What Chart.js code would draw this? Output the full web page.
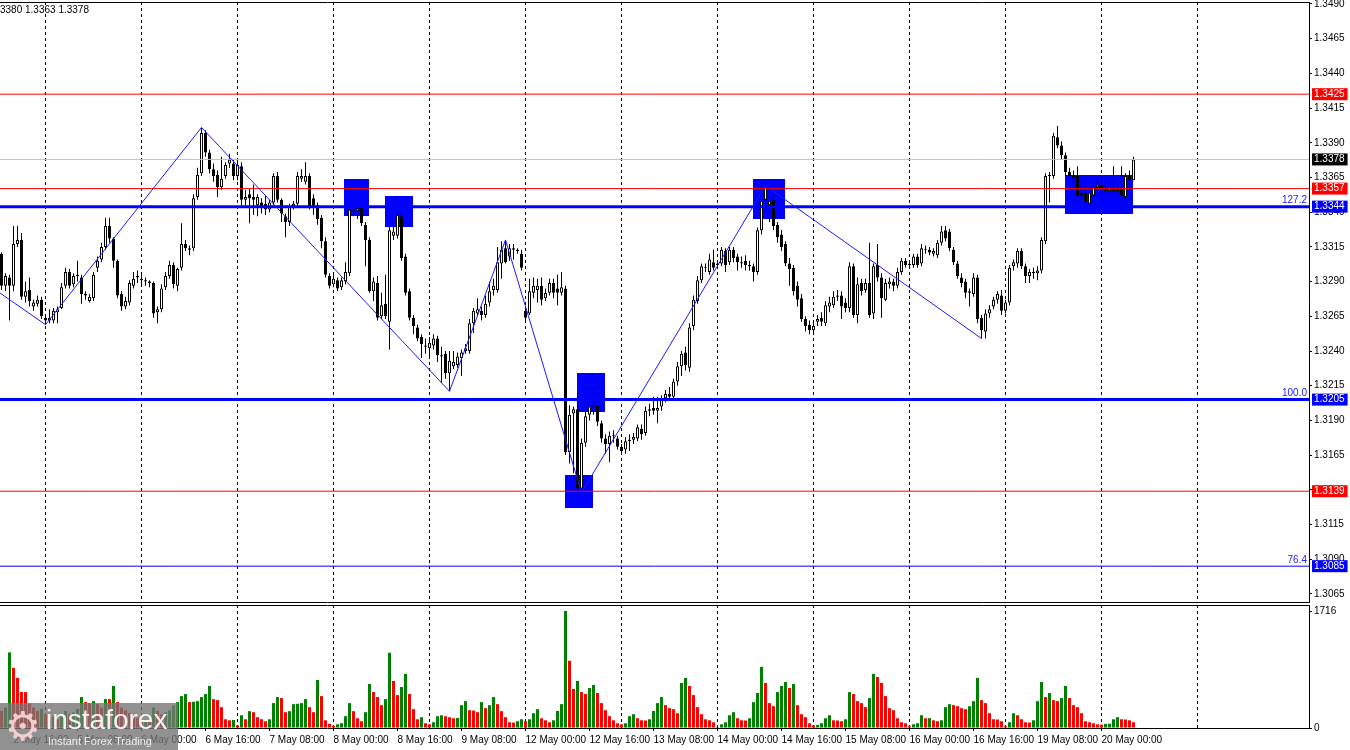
<!DOCTYPE html>
<html>
<head>
<meta charset="utf-8">
<title>GBPUSD H1</title>
<script src="https://cdn.jsdelivr.net/npm/chart.js@4.4.1/dist/chart.umd.min.js"></script>
<style>
  body { margin: 0; background: #fff; }
  #wrap { position: relative; width: 1350px; height: 750px; overflow: hidden; background: #fff; }
  #priceChart { position: absolute; left: 0; top: 0; }
  #volChart { position: absolute; left: 0; top: 603px; }
  #info { position: absolute; left: 0; top: 4px; font: 10px "Liberation Sans", Arial, sans-serif; color: #000; white-space: nowrap; }
  #wm { position: absolute; left: 0; top: 703px; width: 178px; height: 47px; background: rgba(118,118,118,0.8); overflow: hidden; }
  #wm .gear { position: absolute; left: 5px; top: 1px; font: 40px/44px "DejaVu Sans", sans-serif; color: rgba(255,215,215,0.9); }
  #wm .big { position: absolute; left: 46px; top: 1px; font: 28px/32px "Liberation Sans", Arial, sans-serif; color: #f2f2f2; }
  #wm .small { position: absolute; left: 48px; top: 32px; font: 11px/13px "Liberation Sans", Arial, sans-serif; color: #eeeeee; }
</style>
</head>
<body>
<div id="wrap">
  <canvas id="priceChart" width="1350" height="603"></canvas>
  <canvas id="volChart" width="1350" height="147"></canvas>
  <div id="info">3380 1.3363 1.3378</div>
  <div id="wm"><span class="gear">⚙</span><span class="big">instaforex</span><span class="small">Instant Forex Trading</span></div>
</div>
<script>
// hourly candles, 2 May 13:00 .. 20 May 08:00
const opens = [
  1.3310,1.3287,1.3293,1.3287,1.3317,1.3320,1.3279,1.3284,1.3272,1.3274,
  1.3277,1.3264,1.3262,1.3262,1.3268,1.3271,1.3287,1.3297,1.3288,1.3295,
  1.3293,1.3281,1.3276,1.3278,1.3300,1.3306,1.3315,1.3330,1.3321,1.3305,
  1.3281,1.3272,1.3275,1.3287,1.3293,1.3292,1.3291,1.3290,1.3289,1.3268,
  1.3270,1.3286,1.3294,1.3302,1.3287,1.3300,1.3317,1.3314,1.3314,1.3351,
  1.3368,1.3397,1.3383,1.3371,1.3367,1.3358,1.3366,1.3375,1.3375,1.3366,
  1.3373,1.3349,1.3353,1.3351,1.3345,1.3347,1.3346,1.3342,1.3347,1.3366,
  1.3349,1.3337,1.3333,1.3344,1.3346,1.3364,1.3362,1.3366,1.3350,1.3345,
  1.3336,1.3319,1.3294,1.3288,1.3291,1.3286,1.3290,1.3296,1.3341,1.3341,
  1.3343,1.3331,1.3320,1.3283,1.3289,1.3265,1.3274,1.3261,1.3323,1.3323,
  1.3337,1.3308,1.3283,1.3264,1.3257,1.3250,1.3244,1.3242,1.3244,1.3249,
  1.3237,1.3238,1.3224,1.3229,1.3230,1.3235,1.3240,1.3240,1.3260,1.3267,
  1.3269,1.3266,1.3275,1.3284,1.3284,1.3303,1.3314,1.3308,1.3314,1.3313,
  1.3310,1.3269,1.3267,1.3282,1.3284,1.3287,1.3278,1.3282,1.3289,1.3285,
  1.3282,1.3285,1.3167,1.3195,1.3198,1.3141,1.3174,1.3194,1.3199,1.3201,
  1.3188,1.3177,1.3173,1.3179,1.3177,1.3171,1.3169,1.3175,1.3176,1.3177,
  1.3184,1.3181,1.3197,1.3199,1.3197,1.3200,1.3206,1.3209,1.3207,1.3218,
  1.3229,1.3239,1.3228,1.3258,1.3276,1.3291,1.3300,1.3297,1.3304,1.3302,
  1.3303,1.3312,1.3304,1.3313,1.3308,1.3304,1.3305,1.3302,1.3301,1.3297,
  1.3327,1.3349,1.3345,1.3349,1.3331,1.3324,1.3317,1.3303,1.3300,1.3287,
  1.3278,1.3263,1.3259,1.3255,1.3261,1.3264,1.3260,1.3272,1.3273,1.3279,
  1.3280,1.3275,1.3271,1.3301,1.3266,1.3289,1.3284,1.3289,1.3267,1.3302,
  1.3293,1.3277,1.3288,1.3290,1.3287,1.3297,1.3305,1.3302,1.3302,1.3308,
  1.3303,1.3313,1.3313,1.3310,1.3309,1.3318,1.3327,1.3326,1.3313,1.3303,
  1.3293,1.3290,1.3283,1.3281,1.3293,1.3264,1.3254,1.3267,1.3272,1.3277,
  1.3280,1.3269,1.3275,1.3301,1.3303,1.3312,1.3301,1.3294,1.3297,1.3296,
  1.3298,1.3319,1.3366,1.3366,1.3394,1.3388,1.3381,1.3369,1.3366,1.3366,
  1.3354,1.3354,1.3346,1.3352,1.3358,1.3360,1.3357,1.3355,1.3357,1.3355,
  1.3357,1.3351,1.3366,1.3363
];
const highs = [
  1.3311,1.3296,1.3295,1.3330,1.3330,1.3325,1.3290,1.3293,1.3277,1.3280,
  1.3279,1.3266,1.3270,1.3271,1.3272,1.3289,1.3300,1.3299,1.3296,1.3305,
  1.3295,1.3283,1.3281,1.3297,1.3308,1.3318,1.3336,1.3336,1.3322,1.3306,
  1.3283,1.3279,1.3291,1.3297,1.3298,1.3296,1.3293,1.3291,1.3290,1.3272,
  1.3288,1.3297,1.3305,1.3304,1.3300,1.3332,1.3320,1.3316,1.3353,1.3372,
  1.3401,1.3399,1.3385,1.3375,1.3370,1.3380,1.3376,1.3382,1.3378,1.3378,
  1.3376,1.3356,1.3357,1.3360,1.3353,1.3350,1.3352,1.3349,1.3368,1.3369,
  1.3350,1.3339,1.3346,1.3348,1.3369,1.3371,1.3376,1.3368,1.3353,1.3347,
  1.3338,1.3322,1.3296,1.3295,1.3293,1.3293,1.3304,1.3345,1.3350,1.3356,
  1.3346,1.3333,1.3322,1.3293,1.3294,1.3282,1.3295,1.3330,1.3330,1.3341,
  1.3341,1.3310,1.3285,1.3266,1.3259,1.3252,1.3249,1.3250,1.3252,1.3251,
  1.3243,1.3240,1.3240,1.3240,1.3239,1.3241,1.3245,1.3263,1.3271,1.3278,
  1.3272,1.3280,1.3290,1.3292,1.3315,1.3319,1.3320,1.3317,1.3317,1.3314,
  1.3313,1.3272,1.3292,1.3293,1.3292,1.3293,1.3285,1.3292,1.3292,1.3295,
  1.3297,1.3287,1.3201,1.3200,1.3210,1.3177,1.3200,1.3214,1.3214,1.3214,
  1.3190,1.3180,1.3182,1.3183,1.3179,1.3173,1.3178,1.3180,1.3181,1.3187,
  1.3187,1.3200,1.3202,1.3207,1.3207,1.3208,1.3212,1.3214,1.3220,1.3232,
  1.3240,1.3243,1.3260,1.3280,1.3294,1.3303,1.3303,1.3310,1.3313,1.3305,
  1.3315,1.3314,1.3315,1.3315,1.3310,1.3308,1.3309,1.3305,1.3303,1.3329,
  1.3350,1.3359,1.3352,1.3352,1.3333,1.3327,1.3319,1.3307,1.3302,1.3290,
  1.3281,1.3265,1.3262,1.3261,1.3266,1.3268,1.3276,1.3279,1.3283,1.3284,
  1.3283,1.3278,1.3304,1.3303,1.3293,1.3292,1.3292,1.3318,1.3303,1.3317,
  1.3296,1.3292,1.3293,1.3292,1.3300,1.3307,1.3307,1.3305,1.3310,1.3310,
  1.3317,1.3316,1.3315,1.3314,1.3320,1.3330,1.3330,1.3328,1.3315,1.3305,
  1.3296,1.3292,1.3285,1.3296,1.3295,1.3266,1.3270,1.3273,1.3279,1.3283,
  1.3284,1.3277,1.3302,1.3306,1.3314,1.3314,1.3303,1.3299,1.3300,1.3301,
  1.3322,1.3368,1.3369,1.3397,1.3402,1.3391,1.3383,1.3372,1.3370,1.3373,
  1.3359,1.3357,1.3358,1.3362,1.3364,1.3365,1.3361,1.3360,1.3373,1.3359,
  1.3373,1.3368,1.3370,1.3380
];
const lows = [
  1.3284,1.3283,1.3262,1.3283,1.3315,1.3277,1.3275,1.3272,1.3269,1.3272,
  1.3263,1.3259,1.3260,1.3260,1.3260,1.3270,1.3285,1.3285,1.3286,1.3290,
  1.3274,1.3277,1.3275,1.3276,1.3297,1.3304,1.3313,1.3318,1.3300,1.3278,
  1.3269,1.3270,1.3273,1.3285,1.3289,1.3288,1.3287,1.3286,1.3264,1.3260,
  1.3268,1.3284,1.3292,1.3285,1.3283,1.3298,1.3312,1.3309,1.3312,1.3349,
  1.3366,1.3380,1.3368,1.3362,1.3351,1.3356,1.3364,1.3372,1.3363,1.3363,
  1.3345,1.3345,1.3332,1.3338,1.3337,1.3339,1.3338,1.3340,1.3345,1.3347,
  1.3333,1.3322,1.3330,1.3342,1.3344,1.3362,1.3360,1.3342,1.3338,1.3331,
  1.3314,1.3293,1.3285,1.3286,1.3283,1.3284,1.3288,1.3294,1.3337,1.3335,
  1.3330,1.3301,1.3282,1.3276,1.3262,1.3263,1.3263,1.3241,1.3320,1.3321,
  1.3305,1.3280,1.3262,1.3252,1.3247,1.3235,1.3238,1.3236,1.3241,1.3232,
  1.3217,1.3220,1.3211,1.3227,1.3228,1.3222,1.3238,1.3238,1.3253,1.3265,
  1.3262,1.3264,1.3272,1.3280,1.3282,1.3292,1.3303,1.3305,1.3306,1.3310,
  1.3298,1.3262,1.3266,1.3278,1.3275,1.3273,1.3276,1.3280,1.3278,1.3273,
  1.3280,1.3165,1.3159,1.3152,1.3139,1.3138,1.3171,1.3190,1.3194,1.3186,
  1.3174,1.3166,1.3160,1.3174,1.3169,1.3166,1.3166,1.3168,1.3173,1.3175,
  1.3176,1.3179,1.3193,1.3194,1.3188,1.3197,1.3203,1.3204,1.3205,1.3215,
  1.3222,1.3226,1.3225,1.3255,1.3274,1.3289,1.3297,1.3295,1.3298,1.3299,
  1.3301,1.3297,1.3302,1.3304,1.3298,1.3300,1.3298,1.3298,1.3290,1.3295,
  1.3324,1.3340,1.3333,1.3327,1.3318,1.3312,1.3301,1.3287,1.3280,1.3272,
  1.3261,1.3254,1.3252,1.3252,1.3258,1.3258,1.3258,1.3268,1.3271,1.3276,
  1.3263,1.3268,1.3268,1.3264,1.3260,1.3280,1.3282,1.3264,1.3263,1.3290,
  1.3264,1.3276,1.3285,1.3283,1.3285,1.3295,1.3300,1.3299,1.3300,1.3300,
  1.3301,1.3310,1.3309,1.3308,1.3307,1.3316,1.3319,1.3312,1.3302,1.3292,
  1.3286,1.3278,1.3272,1.3279,1.3260,1.3249,1.3249,1.3264,1.3270,1.3274,
  1.3266,1.3267,1.3273,1.3298,1.3300,1.3299,1.3289,1.3289,1.3292,1.3291,
  1.3296,1.3317,1.3347,1.3364,1.3386,1.3378,1.3366,1.3363,1.3360,1.3348,
  1.3346,1.3345,1.3345,1.3350,1.3356,1.3354,1.3349,1.3352,1.3348,1.3350,
  1.3346,1.3349,1.3358,1.3363
];
const closes = [
  1.3287,1.3294,1.3287,1.3317,1.3320,1.3279,1.3283,1.3276,1.3275,1.3277,
  1.3265,1.3262,1.3264,1.3269,1.3270,1.3286,1.3297,1.3287,1.3294,1.3294,
  1.3281,1.3280,1.3279,1.3295,1.3305,1.3315,1.3330,1.3321,1.3305,1.3280,
  1.3272,1.3276,1.3289,1.3292,1.3294,1.3291,1.3290,1.3289,1.3267,1.3270,
  1.3285,1.3294,1.3302,1.3288,1.3299,1.3317,1.3314,1.3313,1.3350,1.3367,
  1.3397,1.3383,1.3371,1.3366,1.3358,1.3364,1.3374,1.3378,1.3366,1.3374,
  1.3349,1.3351,1.3350,1.3349,1.3351,1.3344,1.3342,1.3347,1.3366,1.3349,
  1.3339,1.3333,1.3344,1.3346,1.3366,1.3366,1.3366,1.3344,1.3344,1.3335,
  1.3319,1.3295,1.3287,1.3292,1.3285,1.3291,1.3297,1.3342,1.3342,1.3343,
  1.3332,1.3320,1.3283,1.3290,1.3264,1.3273,1.3265,1.3327,1.3326,1.3338,
  1.3307,1.3282,1.3264,1.3258,1.3249,1.3245,1.3243,1.3246,1.3249,1.3237,
  1.3236,1.3224,1.3233,1.3232,1.3236,1.3239,1.3242,1.3260,1.3269,1.3270,
  1.3266,1.3274,1.3283,1.3287,1.3304,1.3313,1.3304,1.3314,1.3313,1.3312,
  1.3300,1.3264,1.3283,1.3287,1.3287,1.3277,1.3282,1.3289,1.3282,1.3282,
  1.3286,1.3167,1.3194,1.3198,1.3141,1.3174,1.3193,1.3200,1.3200,1.3189,
  1.3177,1.3173,1.3179,1.3179,1.3171,1.3168,1.3175,1.3176,1.3178,1.3185,
  1.3180,1.3197,1.3198,1.3197,1.3199,1.3206,1.3209,1.3207,1.3218,1.3229,
  1.3238,1.3230,1.3257,1.3277,1.3291,1.3301,1.3300,1.3306,1.3300,1.3303,
  1.3313,1.3302,1.3313,1.3307,1.3304,1.3303,1.3302,1.3301,1.3297,1.3327,
  1.3348,1.3358,1.3348,1.3330,1.3322,1.3315,1.3303,1.3299,1.3283,1.3277,
  1.3263,1.3258,1.3255,1.3258,1.3263,1.3261,1.3273,1.3275,1.3279,1.3280,
  1.3272,1.3271,1.3301,1.3266,1.3288,1.3283,1.3289,1.3266,1.3301,1.3293,
  1.3278,1.3289,1.3290,1.3287,1.3297,1.3305,1.3302,1.3302,1.3308,1.3302,
  1.3314,1.3313,1.3311,1.3312,1.3318,1.3326,1.3321,1.3314,1.3304,1.3294,
  1.3289,1.3282,1.3282,1.3293,1.3263,1.3255,1.3267,1.3270,1.3277,1.3281,
  1.3269,1.3275,1.3300,1.3304,1.3312,1.3301,1.3294,1.3297,1.3296,1.3298,
  1.3320,1.3366,1.3367,1.3395,1.3388,1.3381,1.3369,1.3366,1.3365,1.3352,
  1.3352,1.3348,1.3354,1.3358,1.3360,1.3357,1.3355,1.3357,1.3355,1.3356,
  1.3352,1.3366,1.3363,1.3378
];
const volumes = [
  250,300,1109,882,735,527,527,360,300,250,
  280,200,150,170,130,180,250,200,230,280,
  454,380,365,394,350,300,424,424,616,380,
  300,260,220,180,150,90,120,100,300,250,
  200,230,260,330,380,468,498,380,385,394,
  454,498,616,424,409,306,128,113,118,40,
  187,128,247,232,158,128,99,128,365,454,
  439,232,247,350,355,365,424,306,232,705,
  468,113,60,30,54,69,173,365,247,143,
  99,232,646,527,454,335,424,1104,690,483,
  601,794,498,276,128,158,69,54,84,173,
  187,173,158,143,148,335,394,261,255,232,
  380,291,335,454,350,247,158,84,80,99,
  128,99,128,217,276,143,113,84,113,250,
  350,1716,986,572,690,527,498,586,631,513,
  365,261,173,113,69,54,69,173,202,143,
  113,110,128,250,365,454,335,291,276,217,
  661,735,616,483,306,202,128,113,84,15,
  54,84,187,232,143,113,110,143,380,513,
  897,661,365,320,527,616,675,586,646,335,
  202,158,69,39,45,69,143,187,113,110,
  99,128,527,498,394,365,306,439,794,749,
  661,468,291,261,143,84,69,25,54,69,
  187,143,145,113,99,113,306,350,335,320,
  291,276,320,394,735,409,365,217,128,125,
  99,25,84,217,187,128,84,80,113,394,
  675,454,513,409,394,439,616,439,335,306,
  217,99,84,69,54,50,60,62,128,158,
  128,125,113,84
];

// day separators (00:00 bars) and the time labels under the volume panel
const dayStarts = [11, 35, 59, 83, 107, 131, 155, 179, 203, 227, 251, 275, 299];
const labelIdx = [3, 19, 35, 51, 67, 83, 99, 115, 131, 147, 163, 179, 195, 211, 227, 243, 259, 275];
const labelText = ['2 May 16:00', '5 May 08:00', '6 May 00:00', '6 May 16:00', '7 May 08:00', '8 May 00:00',
  '8 May 16:00', '9 May 08:00', '12 May 00:00', '12 May 16:00', '13 May 08:00', '14 May 00:00',
  '14 May 16:00', '15 May 08:00', '16 May 00:00', '16 May 16:00', '19 May 08:00', '20 May 00:00'];

const priceTicks = [1.3490, 1.3465, 1.3440, 1.3415, 1.3390, 1.3365, 1.3340, 1.3315, 1.3290,
  1.3265, 1.3240, 1.3215, 1.3190, 1.3165, 1.3140, 1.3115, 1.3090, 1.3065];
const volTicks = [0, 1716];

const levels = [1.3425, 1.3378, 1.3357, 1.3344, 1.3205, 1.3139, 1.3085];
const levelColors = ['#ff0000', '#c0c0c0', '#ff0000', '#0000ff', '#0000ff', '#ff0000', '#0000ff'];
const levelWidths = [1, 1, 1, 3, 3, 1, 1];
const tagColors = ['#ff0000', '#000000', '#ff0000', '#0000ff', '#0000ff', '#ff0000', '#0000ff'];

const fibLevels = [1.3344, 1.3205, 1.3085];
const fibText = ['127.2', '100.0', '76.4'];

const zigIdx = [-15, 11, 50, 112, 126, 145, 191, 245];
const zigPrice = [1.3311, 1.3259, 1.3401, 1.3211, 1.3320, 1.3138, 1.3359, 1.3249];

// [from bar, to bar, top price, bottom price]
const boxes = [
  [85.6, 91.9, 1.3364, 1.3337],
  [95.9, 102.9, 1.3352, 1.3330],
  [140.9, 147.9, 1.3151, 1.3127],
  [143.9, 150.9, 1.3224, 1.3196],
  [187.9, 195.9, 1.3364, 1.3335],
  [265.9, 283.0, 1.3367, 1.3339]
];

const xMin = -0.375, xMax = 326.875;
const FONT = 'Liberation Sans';
Chart.defaults.font.family = FONT;
Chart.defaults.font.size = 10;
Chart.defaults.color = '#000';

function setTicks(list) {
  return function (scale) { scale.ticks = list.map(v => ({ value: v })); };
}
function noPad(scale) {
  scale.paddingTop = 0; scale.paddingBottom = 0; scale.paddingLeft = 0; scale.paddingRight = 0;
}

const overlayPlugin = {
  id: 'overlay',
  beforeDatasetsDraw(chart) {
    const { ctx, scales: { x, y } } = chart;
    ctx.save();
    ctx.fillStyle = '#0000ff';
    boxes.forEach(b => {
      const x0 = x.getPixelForValue(b[0]), x1 = x.getPixelForValue(b[1]);
      const y0 = y.getPixelForValue(b[2]), y1 = y.getPixelForValue(b[3]);
      ctx.fillRect(Math.round(x0), Math.round(y0), Math.round(x1 - x0), Math.round(y1 - y0));
    });
    ctx.restore();
  },
  afterDatasetsDraw(chart) {
    const { ctx, chartArea, scales: { y } } = chart;
    ctx.save();
    ctx.font = '10px "' + FONT + '"';
    ctx.fillStyle = '#2020ff';
    ctx.textAlign = 'right';
    ctx.textBaseline = 'bottom';
    fibLevels.forEach((lv, i) => {
      ctx.fillText(fibText[i], chartArea.right - 2, y.getPixelForValue(lv) - 1);
    });
    ctx.restore();
  }
};

const wickData = highs.map((h, i) => ({ x: i, y: [lows[i], h] }));
const bodyData = opens.map((o, i) => ({ x: i, y: [o, closes[i]] }));
const bodyColors = opens.map((o, i) => closes[i] >= o ? '#ffffff' : '#000000');

const levelSets = levels.map((lv, i) => ({
  type: 'line',
  data: [{ x: -50, y: lv }, { x: 400, y: lv }],
  borderColor: levelColors[i],
  borderWidth: levelWidths[i],
  pointRadius: 0,
  order: 0,
  xAxisID: 'x', yAxisID: 'y'
}));

function timeAxis(extra) {
  return Object.assign({
    type: 'linear', min: xMin, max: xMax, offset: false,
    ticks: { display: false },
    grid: { display: false, drawTicks: false, offset: false },
    border: { display: false }
  }, extra);
}

new Chart(document.getElementById('priceChart'), {
  type: 'bar',
  data: {
    datasets: [
      {
        type: 'line',
        data: zigIdx.map((v, i) => ({ x: v, y: zigPrice[i] })),
        borderColor: '#1a1aff',
        borderWidth: 1,
        pointRadius: 0,
        order: 0,
        xAxisID: 'x', yAxisID: 'y'
      },
      ...levelSets,
      {
        data: bodyData,
        backgroundColor: bodyColors,
        borderColor: '#000',
        borderWidth: 1,
        borderSkipped: false,
        grouped: false,
        barPercentage: 1,
        categoryPercentage: 0.75,
        minBarLength: 1,
        inflateAmount: 0,
        order: 1,
        xAxisID: 'x', yAxisID: 'y'
      },
      {
        data: wickData,
        backgroundColor: '#000',
        borderWidth: 0,
        grouped: false,
        barPercentage: 1,
        categoryPercentage: 0.25,
        inflateAmount: 0,
        order: 2,
        xAxisID: 'x', yAxisID: 'y'
      }
    ]
  },
  options: {
    responsive: false,
    animation: false,
    events: [],
    layout: { padding: { top: 2, bottom: 1, left: 0, right: 0 } },
    plugins: { legend: { display: false }, tooltip: { enabled: false } },
    scales: {
      x: timeAxis({
        position: 'bottom',
        afterBuildTicks: setTicks(dayStarts),
        afterFit: s => { s.height = 0; noPad(s); },
        grid: { display: true, color: '#000', lineWidth: 1, drawTicks: false, offset: false },
        border: { display: true, color: '#000', dash: [3, 3] }
      }),
      xTop: timeAxis({
        position: 'top',
        afterFit: s => { s.height = 0; noPad(s); },
        border: { display: true, color: '#000' }
      }),
      y: {
        type: 'linear', position: 'right', min: 1.30592, max: 1.34914,
        afterBuildTicks: setTicks(priceTicks.concat(levels)),
        afterFit: s => { s.width = 41; noPad(s); },
        grid: {
          drawOnChartArea: false, drawTicks: true, tickLength: 3, color: '#000',
          tickColor: c => c.index < priceTicks.length ? '#000' : 'rgba(0,0,0,0)'
        },
        border: { display: true, color: '#000' },
        ticks: {
          autoSkip: false,
          padding: 2,
          font: { family: FONT, size: 10, lineHeight: 1 },
          color: c => c.index < priceTicks.length ? '#000' : '#fff',
          showLabelBackdrop: c => c.index >= priceTicks.length,
          backdropColor: c => tagColors[c.index - priceTicks.length] || 'rgba(0,0,0,0)',
          backdropPadding: { top: 1, bottom: 1, left: 2, right: 3 },
          callback: v => Number(v).toFixed(4)
        }
      }
    }
  },
  plugins: [overlayPlugin]
});

new Chart(document.getElementById('volChart'), {
  type: 'bar',
  data: {
    datasets: [{
      data: volumes.map((v, i) => ({ x: i, y: v })),
      backgroundColor: volumes.map((v, i) => i > 0 && v > volumes[i - 1] ? '#008000' : '#ff0000'),
      borderWidth: 0,
      grouped: false,
      barPercentage: 1,
      categoryPercentage: 0.75,
      inflateAmount: 0,
      xAxisID: 'x', yAxisID: 'y'
    }]
  },
  options: {
    responsive: false,
    animation: false,
    events: [],
    layout: { padding: { top: 2, bottom: 0, left: 0, right: 0 } },
    plugins: { legend: { display: false }, tooltip: { enabled: false } },
    scales: {
      x: timeAxis({
        position: 'bottom',
        afterBuildTicks: setTicks(dayStarts),
        afterFit: s => { s.height = 0; noPad(s); },
        grid: { display: true, color: '#000', lineWidth: 1, drawTicks: false, offset: false },
        border: { display: false, dash: [3, 3] }
      }),
      xl: timeAxis({
        position: 'bottom',
        afterBuildTicks: setTicks(labelIdx),
        afterFit: s => { s.height = 22; noPad(s); },
        ticks: {
          display: true, autoSkip: false, maxRotation: 0, minRotation: 0, align: 'start', padding: 3,
          font: { family: FONT, size: 10 },
          callback: (v, i) => labelText[i] || ''
        },
        grid: { display: true, drawOnChartArea: false, drawTicks: true, tickLength: 3, color: '#000', offset: false },
        border: { display: true, color: '#000' }
      }),
      xTop: timeAxis({
        position: 'top',
        afterFit: s => { s.height = 0; noPad(s); },
        border: { display: true, color: '#000' }
      }),
      y: {
        type: 'linear', position: 'right', min: 0, max: 1804,
        afterBuildTicks: setTicks(volTicks),
        afterFit: s => { s.width = 41; noPad(s); },
        grid: { drawOnChartArea: false, drawTicks: true, tickLength: 3, color: '#000' },
        border: { display: true, color: '#000' },
        ticks: { autoSkip: false, padding: 2, font: { family: FONT, size: 10 }, callback: v => String(v) }
      }
    }
  }
});
</script>
</body>
</html>
